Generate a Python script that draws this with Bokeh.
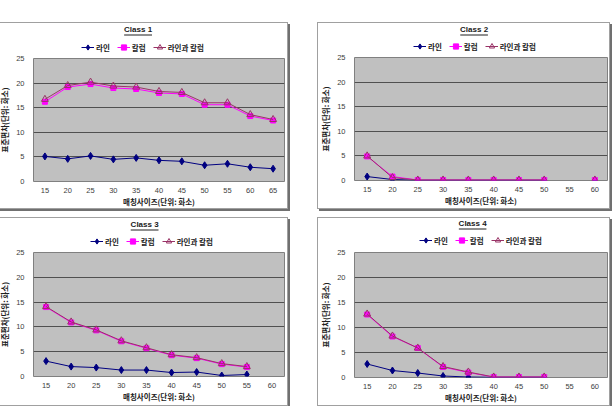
from bokeh.plotting import figure
from bokeh.models import (ColumnDataSource, FactorRange, Range1d, Legend, LegendItem,
                          Label, BoxAnnotation, Spacer, FixedTicker)
from bokeh.layouts import row, column
from bokeh.embed import file_html
from bokeh.resources import INLINE

nan = float("nan")

# matching window sizes (pixels)
sizes_c1 = ["15", "20", "25", "30", "35", "40", "45", "50", "55", "60", "65"]
sizes = ["15", "20", "25", "30", "35", "40", "45", "50", "55", "60"]

series_names = ["라인", "칼럼", "라인과 칼럼"]

# standard deviation (pixels) per class
c1_line = [5.1, 4.6, 5.2, 4.5, 4.8, 4.3, 4.1, 3.3, 3.6, 2.9, 2.6]
c1_col = [16.2, 19.2, 19.8, 19.0, 18.8, 18.0, 17.8, 15.6, 15.6, 13.3, 12.4]
c1_both = [16.7, 19.5, 20.2, 19.4, 19.2, 18.3, 18.1, 16.0, 16.0, 13.6, 12.6]

c2_line = [0.8, 0.2, 0.05, 0.05, 0.05, 0.05, 0.05, 0.05, nan, 0.05]
c2_col = [4.9, 0.8, 0.1, 0.1, 0.1, 0.1, 0.1, 0.1, nan, 0.1]
c2_both = [5.0, 0.6, 0.1, 0.1, 0.1, 0.1, 0.1, 0.1, nan, 0.1]

c3_line = [3.1, 2.0, 1.8, 1.3, 1.3, 0.8, 0.9, 0.2, 0.4, nan]
c3_col = [14.0, 10.9, 9.3, 7.1, 5.7, 4.3, 3.7, 2.5, 1.9, nan]
c3_both = [14.1, 11.0, 9.4, 7.2, 5.8, 4.4, 3.8, 2.6, 2.0, nan]

c4_line = [2.7, 1.4, 0.9, 0.3, 0.1, 0.05, 0.05, 0.05, nan, nan]
c4_col = [12.6, 8.2, 5.9, 2.1, 1.0, 0.1, 0.1, 0.1, nan, nan]
c4_both = [12.7, 8.3, 5.9, 2.2, 1.1, 0.1, 0.1, 0.1, nan, nan]

y_ticks = [0, 5, 10, 15, 20, 25]

FONT = "Liberation Sans"
KFONT = "Noto Sans CJK KR"
NAVY = "#000080"
MAGENTA = "#FF00FF"
PLUM = "#993366"

LINE_STYLE = dict(color=NAVY, line_width=1)
DIAMOND = dict(marker="diamond", size=7, fill_color=NAVY, line_color=NAVY)
COL_STYLE = dict(color=MAGENTA, line_width=1)
SQUARE = dict(marker="square", size=5, fill_color=MAGENTA, line_color=MAGENTA)
BOTH_STYLE = dict(color=PLUM, line_width=1)
TRIANGLE = dict(marker="triangle", size=7, fill_color=None, line_color=PLUM, line_width=1)


def header(title, width, height, fl, fr, title_c, legend_pos):
    """Title and legend strip above a chart; its plot frame spans fl..fr so that
    one x unit is one canvas pixel."""
    h = figure(width=width, height=height, x_range=Range1d(fl, fr), y_range=Range1d(0, height),
               x_axis_type=None, y_axis_type=None, output_backend="svg",
               toolbar_location=None, tools="",
               min_border_left=fl, min_border_right=width - fr,
               min_border_top=0, min_border_bottom=0)
    h.outline_line_color = None
    h.background_fill_alpha = 0
    h.border_fill_alpha = 0
    h.xgrid.visible = False
    h.ygrid.visible = False

    tx, ty = title_c
    h.add_layout(Label(x=tx, y=height - ty, text=title, text_align="center",
                       text_baseline="middle", text_font=FONT, text_font_style="bold",
                       text_font_size="8px", text_color="#202020"))
    h.add_layout(BoxAnnotation(left=tx - 14, right=tx + 14,
                               bottom=height - ty - 6, top=height - ty - 5,
                               fill_color="#202020", fill_alpha=1, line_color=None))

    # legend keys: renderers holding a single undrawn point
    key = ColumnDataSource(dict(x=[nan], y=[nan]))
    k1 = [h.line("x", "y", source=key, **LINE_STYLE), h.scatter("x", "y", source=key, **DIAMOND)]
    k2 = [h.line("x", "y", source=key, **COL_STYLE), h.scatter("x", "y", source=key, **SQUARE)]
    k3 = [h.line("x", "y", source=key, **BOTH_STYLE), h.scatter("x", "y", source=key, **TRIANGLE)]
    lx, ly = legend_pos
    legend = Legend(items=[LegendItem(label=series_names[0], renderers=k1),
                           LegendItem(label=series_names[1], renderers=k2),
                           LegendItem(label=series_names[2], renderers=k3)],
                    orientation="horizontal", location=(lx - fl, ly))
    legend.background_fill_alpha = 0
    legend.border_line_color = None
    legend.padding = 0
    legend.margin = 0
    legend.spacing = 7
    legend.glyph_width = 13
    legend.glyph_height = 14
    legend.label_height = 14
    legend.label_width = 0
    legend.label_standoff = 2
    legend.label_text_font = KFONT
    legend.label_text_font_style = "bold"
    legend.label_text_font_size = "7.5px"
    legend.label_text_color = "#202020"
    h.add_layout(legend)
    return h


def chart(cats, line_v, col_v, both_v, width, height, frame):
    fl, fr, ft, fb = frame
    p = figure(width=width, height=height,
               x_range=FactorRange(factors=cats, range_padding=0),
               y_range=Range1d(0, 25),
               output_backend="svg", toolbar_location=None, tools="",
               min_border_left=fl, min_border_right=width - fr,
               min_border_top=ft, min_border_bottom=height - fb)
    p.background_fill_color = "#C0C0C0"
    p.border_fill_alpha = 0
    p.outline_line_color = "#808080"
    p.outline_line_width = 1

    src = ColumnDataSource(dict(size=cats, line=line_v, col=col_v, both=both_v))
    p.line("size", "line", source=src, **LINE_STYLE)
    p.scatter("size", "line", source=src, **DIAMOND)
    p.line("size", "col", source=src, **COL_STYLE)
    p.scatter("size", "col", source=src, **SQUARE)
    p.line("size", "both", source=src, **BOTH_STYLE)
    p.scatter("size", "both", source=src, **TRIANGLE)

    p.yaxis.ticker = FixedTicker(ticks=y_ticks)
    p.ygrid.ticker = FixedTicker(ticks=y_ticks)
    p.ygrid.grid_line_color = "#505050"
    p.xgrid.grid_line_color = None
    for ax in (p.xaxis, p.yaxis):
        ax.axis_line_color = None
        ax.major_tick_line_color = None
        ax.minor_tick_line_color = None
        ax.major_tick_out = 0
        ax.major_tick_in = 0
        ax.minor_tick_out = 0
        ax.major_label_text_font = FONT
        ax.major_label_text_font_size = "7.5px"
        ax.major_label_text_color = "#404040"
        ax.axis_label_text_font = KFONT
        ax.axis_label_text_font_style = "bold"
        ax.axis_label_text_font_size = "7.5px"
        ax.axis_label_text_color = "#202020"
    p.yaxis.axis_label = "표준편차(단위: 화소)"
    p.xaxis.axis_label = "매칭사이즈(단위: 화소)"
    p.yaxis.major_label_standoff = 9
    p.yaxis.axis_label_standoff = 3
    p.xaxis.major_label_standoff = 6
    p.xaxis.axis_label_standoff = 0
    return p


def panel(title, cats, line_v, col_v, both_v, width, height, head_h, frame, title_c,
          legend_pos, shift=0):
    fl, fr, ft, fb = frame  # plot area edges inside the chart box
    h = header(title, width, head_h, fl, fr, title_c, legend_pos)
    c = chart(cats, line_v, col_v, both_v, width, height - head_h,
              (fl, fr, ft - head_h, fb - head_h))
    edges = ["inset 0 1px 0 #A0A0A0", "inset -1px 0 0 #A0A0A0", "inset 0 -1px 0 #A0A0A0",
             "inset 1px 0 0 #A0A0A0", "2px 2px 0 #707070"]
    return column(h, c, margin=(0, 0, 0, -shift),
                  styles={"box-shadow": ", ".join(edges), "background-color": "white"})


# left-hand boxes start a few pixels past the page's left edge
S = 4
b1 = panel("Class 1", sizes_c1, c1_line, c1_col, c1_both, 288 + S, 187, 32,
           (32 + S, 284 + S, 36, 160), (137 + S, 7), (80 + S, 0), shift=S)
b2 = panel("Class 2", sizes, c2_line, c2_col, c2_both, 293, 187, 31,
           (34, 290, 35, 158), (155, 7), (93, 0))
b3 = panel("Class 3", sizes, c3_line, c3_col, c3_both, 288 + S, 189, 31,
           (31 + S, 284 + S, 35, 159), (143 + S, 7), (88 + S, 0), shift=S)
b4 = panel("Class 4", sizes, c4_line, c4_col, c4_both, 293, 189, 31,
           (33, 290, 35, 160), (153, 6), (98, 1))

page = column(Spacer(width=610, height=22),
              row(b1, Spacer(width=29, height=187), b2),
              Spacer(width=610, height=8),
              row(b3, Spacer(width=29, height=189), b4))

open("out.html", "w").write(file_html(page, INLINE))
